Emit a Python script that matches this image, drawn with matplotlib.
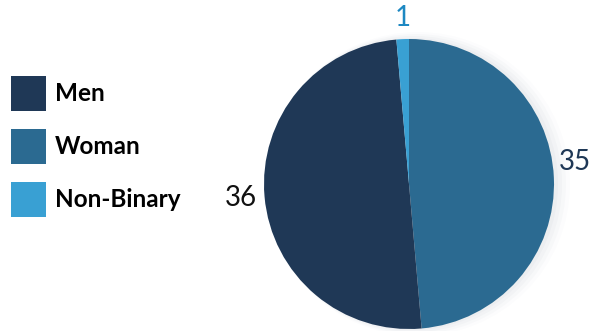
import matplotlib
matplotlib.use("Agg")
import matplotlib.pyplot as plt

categories = ["Men", "Woman", "Non-Binary"]
counts = [36, 35, 1]
colors = ["#1f3856", "#2b6a91", "#39a0d3"]
label_colors = ["#111111", "#1f3856", "#1d88c2"]

# drawing order for the pie: clockwise from 12 o'clock
order = [1, 0, 2]

W, H = 593, 331
fig = plt.figure(figsize=(W / 100, H / 100), dpi=100)
ax = fig.add_axes([0, 0, 1, 1])
ax.set_xlim(0, W)
ax.set_ylim(0, H)
ax.axis("off")

cx, cy, r = 409, H - 184, 145

# soft shadow on the right rim
for i, a in enumerate([0.05, 0.04, 0.03, 0.02]):
    sh = plt.Circle((cx + 3 + i * 2, cy), r + 1 + i * 2, color="#7a8a99", alpha=a, lw=0)
    ax.add_patch(sh)

wedges, _ = ax.pie([counts[i] for i in order],
                   colors=[colors[i] for i in order],
                   startangle=90, counterclock=False,
                   center=(cx, cy), radius=r, frame=True,
                   wedgeprops=dict(linewidth=0))
ax.set_xlim(0, W)
ax.set_ylim(0, H)
ax.axis("off")

font = "Lato"
# value labels
pos = {0: (241, H - 198), 1: (575, H - 162), 2: (403, H - 18)}
for i in range(3):
    ax.text(*pos[i], str(counts[i]), ha="center", va="center",
            fontsize=20, color=label_colors[i], family=font)

handles = [wedges[order.index(i)] for i in range(3)]
fs = 17.5
fpx = fs * 100 / 72
leg = ax.legend(handles, categories, loc="upper left",
                bbox_to_anchor=(11 / W, 1 - 76 / H), frameon=False,
                prop=dict(family=font, weight="bold", size=fs),
                handlelength=35 / fpx, handleheight=(35 / fpx - 0.245) / 0.65,
                handletextpad=9 / fpx,
                labelspacing=17.9 / fpx, borderpad=0, borderaxespad=0)

fig.savefig("out.png", dpi=100)
